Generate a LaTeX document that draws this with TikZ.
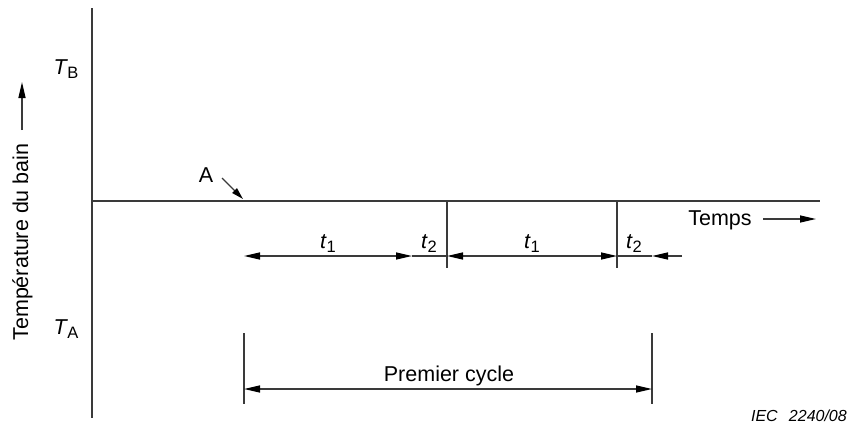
\documentclass[tikz,border=0pt]{standalone}
\usepackage{fontspec}
\setmainfont{Liberation Sans}
\usetikzlibrary{arrows.meta}
\definecolor{ln}{HTML}{3a3a3a}
\begin{document}
\begin{tikzpicture}[x=1pt,y=-1pt,
  line/.style={draw=ln, line width=1.4pt},
  tipend/.style={-{Triangle[length=16pt,width=7pt,color=black]}},
  tipboth/.style={{Triangle[length=16pt,width=7pt,color=black]}-{Triangle[length=16pt,width=7pt,color=black]}},
  tipsmall/.style={-{Triangle[length=12pt,width=6.5pt,color=black]}},
  lbl/.style={font=\fontsize{21.5}{25}\selectfont, inner sep=0pt, text=black},
  small/.style={font=\fontsize{16}{19}\selectfont\itshape, inner sep=0pt, text=black}]
\useasboundingbox (0,0) rectangle (851,426);
\newcommand{\sbs}[1]{\raisebox{-4.5pt}{\fontsize{16.5}{16.5}\selectfont\upshape #1}}
% axes
\coordinate (ytop) at (92,8);
\coordinate (ybot) at (92,418);
\coordinate (h0) at (92,201);
\coordinate (h1) at (820,201);
\draw[line] (ytop) -- (ybot);
\draw[line] (h0) -- (h1);
% ticks
\coordinate (k1a) at (447,201); \coordinate (k1b) at (447,268);
\coordinate (k2a) at (617,201); \coordinate (k2b) at (617,268);
\draw[line] (k1a) -- (k1b);
\draw[line] (k2a) -- (k2b);
% dimension line
\coordinate (d0) at (244,256);
\coordinate (d1) at (412,256);
\coordinate (d2) at (447,256);
\coordinate (d3) at (617,256);
\coordinate (d4) at (652,256);
\coordinate (d5) at (682,256);
\draw[line,tipboth] (d0) -- (d1);
\draw[line] (d1) -- (d2);
\draw[line,tipboth] (d2) -- (d3);
\draw[line] (d3) -- (d4);
\draw[line,tipend] (d5) -- (d4);
\node[lbl,anchor=base] (lt1) at (328,248) {\itshape t\kern0.5pt\sbs{1}};
\node[lbl,anchor=base] (lt2) at (429,248) {\itshape t\kern0.5pt\sbs{2}};
\node[lbl,anchor=base] (lt3) at (532,248) {\itshape t\kern0.5pt\sbs{1}};
\node[lbl,anchor=base] (lt4) at (634,248) {\itshape t\kern0.5pt\sbs{2}};
% premier cycle
\coordinate (c1a) at (244,333); \coordinate (c1b) at (244,404);
\coordinate (c2a) at (652,333); \coordinate (c2b) at (652,404);
\draw[line] (c1a) -- (c1b);
\draw[line] (c2a) -- (c2b);
\coordinate (p0) at (244,389);
\coordinate (p1) at (652,389);
\draw[line,tipboth] (p0) -- (p1);
\node[lbl,anchor=base] (pc) at (449,381) {Premier cycle};
% A
\node[lbl,anchor=base] (la) at (206,182) {A};
\coordinate (a0) at (222,178);
\coordinate (a1) at (243,199);
\draw[line,tipsmall] (a0) -- (a1);
% temps
\node[lbl,anchor=base] (tm) at (720,225) {Temps};
\coordinate (ta0) at (763,219);
\coordinate (ta1) at (816,219);
\draw[line,tipend] (ta0) -- (ta1);
% T labels
\node[lbl,anchor=base] (tb) at (66,74) {\itshape T\kern0.5pt\sbs{B}};
\node[lbl,anchor=base] (ta) at (66,334) {\itshape T\kern0.5pt\sbs{A}};
% y label
\node[lbl,anchor=base,rotate=90] (yl) at (28,242) {Température du bain};
\coordinate (ya0) at (22,130);
\coordinate (ya1) at (22,82);
\draw[line,tipend] (ya0) -- (ya1);
% IEC
\node[small,anchor=base east] (iec) at (847,421) {IEC\hspace{0.7em}2240/08};
\end{tikzpicture}
\end{document}
